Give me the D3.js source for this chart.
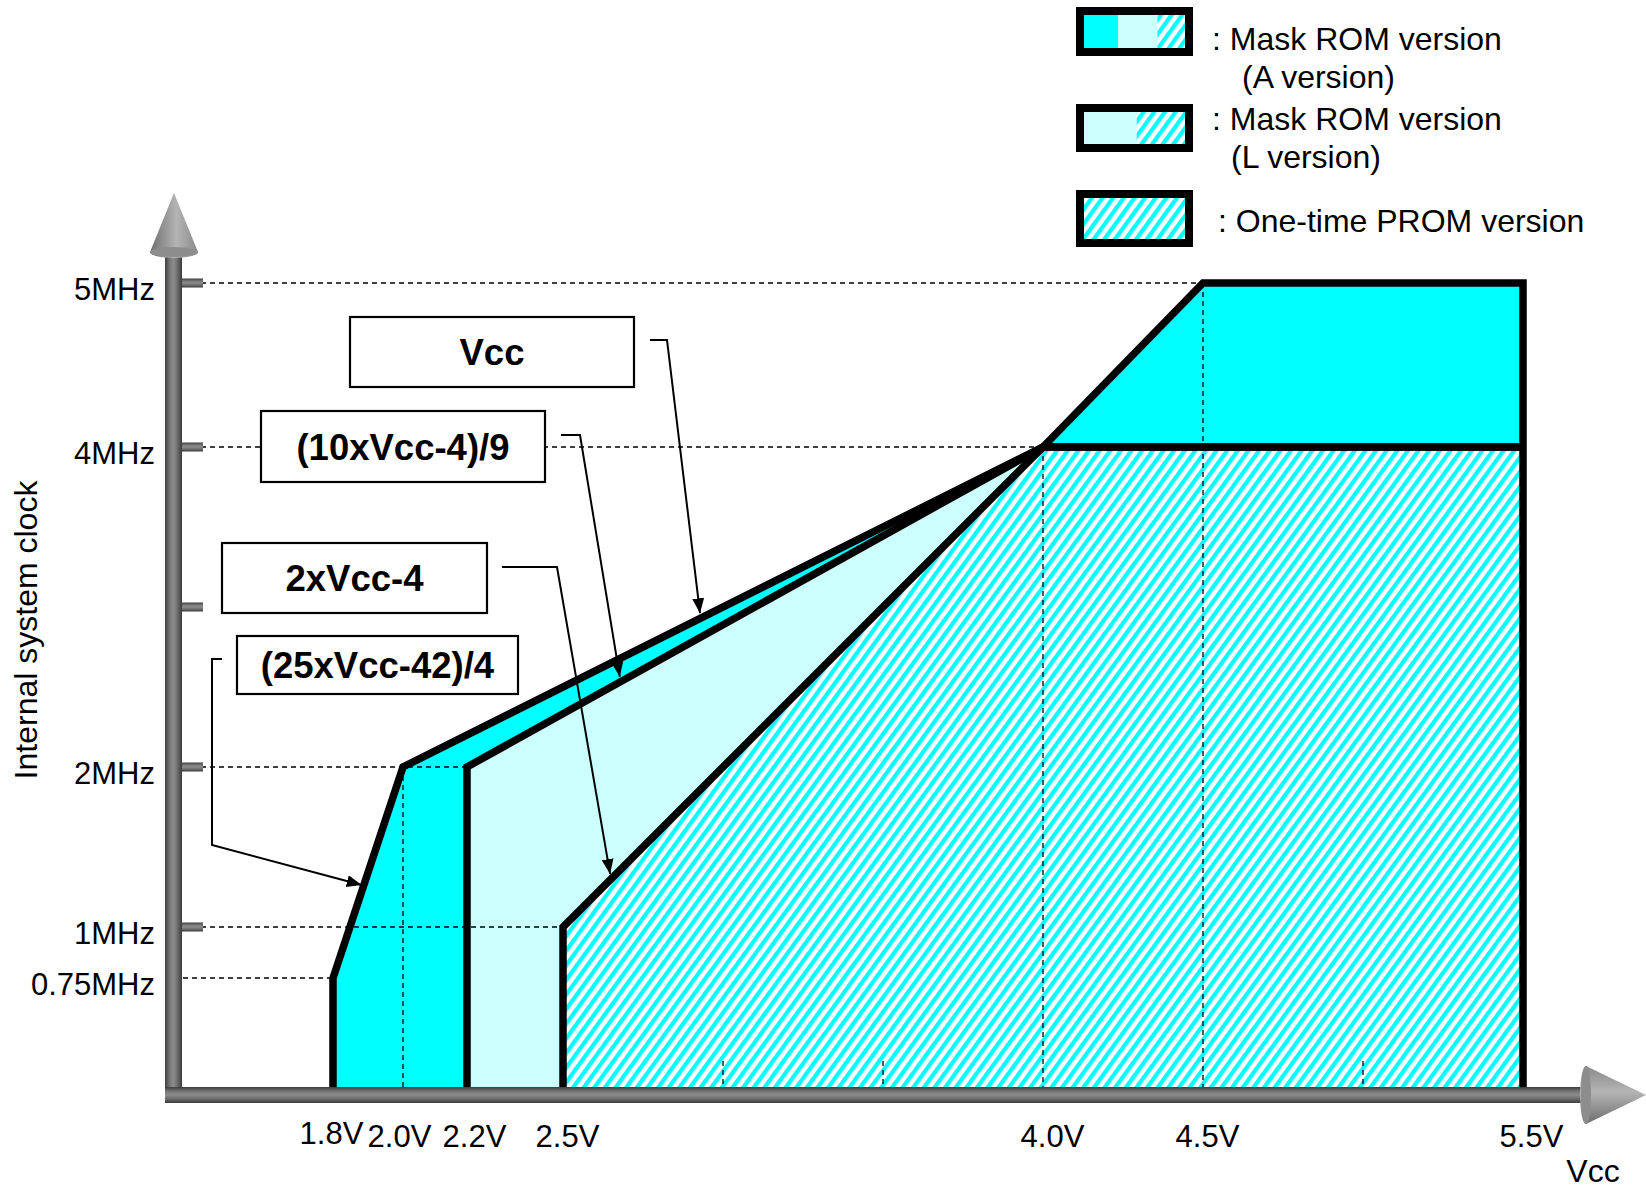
<!DOCTYPE html>
<html><head><meta charset="utf-8">
<script src="https://cdn.jsdelivr.net/npm/d3@7/dist/d3.min.js"></script>
<style>
body{margin:0;background:#fff}
svg{display:block}
text{font-family:"Liberation Sans",Arial,Helvetica,sans-serif;fill:#000}
</style>
</head><body>
<svg id="c" width="1646" height="1191"></svg>
<script>
// ---------------- data ----------------
const xTickValues = [1.8, 2.0, 2.2, 2.5, 4.0, 4.5, 5.5];
const xTickLabels = ["1.8V", "2.0V", "2.2V", "2.5V", "4.0V", "4.5V", "5.5V"];
const xMinorTicks = [3.0, 3.5, 5.0];
const yStubValues = [1, 2, 3, 4, 5];
const yLabelValues = [0.75, 1, 2, 4, 5];
const yTickLabels = ["0.75MHz", "1MHz", "2MHz", "4MHz", "5MHz"];
const xTitle = "Vcc";
const yTitle = "Internal system clock";

// operating-area boundaries [Vcc (V), clock (MHz)]
const aVersionBoundary = [[1.8, 0], [1.8, 0.75], [2.0, 2], [4.0, 4], [4.5, 5], [5.5, 5], [5.5, 0]];
const lVersionBoundary = [[2.2, 0], [2.2, 2], [4.0, 4], [5.5, 4]];
const otpBoundary = [[2.5, 0], [2.5, 1], [4.0, 4], [5.5, 4]];

// dashed reference lines
const hRefFreq = [5, 4, 2, 1, 0.75];
const hRefVcc = [4.5, 4.0, 2.2, 2.5, 1.8];
const vRefVcc = [2.0, 4.0, 4.5];
const vRefFreq = [2, 4, 5];

// formula callouts and the Vcc where each arrow points
const formulaLabels = ["Vcc", "(10xVcc-4)/9", "2xVcc-4", "(25xVcc-42)/4"];
const formulaTargetVcc = [2.93, 2.68, 2.65, 1.882];
const formulaFns = [v => v, v => (10 * v - 4) / 9, v => 2 * v - 4, v => (25 * v - 42) / 4];

const legendLabels = [
  [": Mask ROM version", "(A version)"],
  [": Mask ROM version", "(L version)"],
  [": One-time PROM version"]
];

// ---------------- drawing ----------------
const CYAN = "#00ffff", LIGHT = "#ccffff";
const svg = d3.select("#c");
const x = d3.scaleLinear().domain([1.8, 2.0, 5.5]).range([333, 403, 1523]);
const y = d3.scaleLinear().domain([0, 0.75, 1, 4, 5]).range([1087, 978, 927, 447, 283]);
const line = d3.line().x(d => x(d[0])).y(d => y(d[1]));

const defs = svg.append("defs");
const pat = defs.append("pattern").attr("id", "hatch").attr("patternUnits", "userSpaceOnUse")
  .attr("width", 8.6).attr("height", 20).attr("patternTransform", "rotate(36)");
pat.append("rect").attr("width", 8.6).attr("height", 20).attr("fill", "#fff");
pat.append("rect").attr("width", 4.2).attr("height", 20).attr("fill", CYAN);

function grad(id, vertical, stops) {
  const g = defs.append("linearGradient").attr("id", id)
    .attr("x1", 0).attr("y1", 0).attr("x2", vertical ? 0 : 1).attr("y2", vertical ? 1 : 0);
  stops.forEach(s => g.append("stop").attr("offset", s[0]).attr("stop-color", s[1]));
}
const barStops = [[0, "#3e3e3e"], [0.3, "#7a7a7a"], [0.5, "#8c8c8c"], [0.75, "#6a6a6a"], [1, "#3a3a3a"]];
grad("gv", false, barStops);
grad("gh", true, barStops);
grad("cone", false, [[0, "#6e6e6e"], [0.55, "#b4b4b4"], [1, "#8a8a8a"]]);
grad("coneh", true, [[0, "#8a8a8a"], [0.45, "#b4b4b4"], [1, "#6e6e6e"]]);

defs.append("marker").attr("id", "arr").attr("markerUnits", "userSpaceOnUse")
  .attr("markerWidth", 16).attr("markerHeight", 14).attr("refX", 15).attr("refY", 6)
  .attr("orient", "auto")
  .append("path").attr("d", "M0,0L15,6L0,12Z").attr("fill", "#000");

// fills
svg.append("path").attr("d", line(aVersionBoundary) + "Z").attr("fill", CYAN);
svg.append("path").attr("d", line(lVersionBoundary.concat([[5.5, 0]])) + "Z").attr("fill", LIGHT);
svg.append("path").attr("d", line(otpBoundary.concat([[5.5, 0]])) + "Z").attr("fill", "url(#hatch)");

// dashed reference lines
const dash = {stroke: "#000", "stroke-width": 1.3, "stroke-dasharray": "5,4", fill: "none"};
function applyAttrs(sel, o) { Object.entries(o).forEach(([k, v]) => sel.attr(k, v)); return sel; }
hRefFreq.forEach((f, i) => {
  applyAttrs(svg.append("line").attr("x1", 183).attr("x2", x(hRefVcc[i]))
    .attr("y1", y(f)).attr("y2", y(f)), dash);
});
vRefVcc.forEach((v, i) => {
  applyAttrs(svg.append("line").attr("x1", x(v)).attr("x2", x(v))
    .attr("y1", y(vRefFreq[i])).attr("y2", i === 0 ? 1100 : y(0)), dash);
});
xMinorTicks.forEach(v => {
  applyAttrs(svg.append("line").attr("x1", x(v)).attr("x2", x(v))
    .attr("y1", y(0) - 26).attr("y2", y(0)), dash);
});

// thick boundaries
[aVersionBoundary, lVersionBoundary, otpBoundary].forEach(b => {
  svg.append("path").attr("d", line(b)).attr("fill", "none").attr("stroke", "#000")
    .attr("stroke-width", 7.5).attr("stroke-linejoin", "miter").attr("stroke-miterlimit", 10);
});

// axes (3D bars)
svg.append("rect").attr("x", 165).attr("y", 252).attr("width", 17).attr("height", 851).attr("fill", "url(#gv)");
svg.append("rect").attr("x", 165).attr("y", 1087).attr("width", 1425).attr("height", 16).attr("fill", "url(#gh)");
yStubValues.forEach(v => {
  svg.append("rect").attr("x", 182).attr("y", y(v) - 4.5).attr("width", 21).attr("height", 9).attr("fill", "url(#gh)");
});
// y arrow cone
svg.append("path").attr("d", "M150,252 L174,193 L198,252 A24,6 0 0 1 150,252 Z").attr("fill", "url(#cone)");
svg.append("ellipse").attr("cx", 174).attr("cy", 252).attr("rx", 24).attr("ry", 5).attr("fill", "#8d8d8d");
// x arrow cone
svg.append("path").attr("d", "M1586,1066 L1646,1095 L1586,1124 A6,29 0 0 1 1586,1066 Z").attr("fill", "url(#coneh)");
svg.append("ellipse").attr("cx", 1586).attr("cy", 1095).attr("rx", 5).attr("ry", 29).attr("fill", "#8d8d8d");

// axis labels via d3 axes (small hand-placement nudges as in the original drawing)
const xLabelNudge = [-2, -4, 7, 4, 9, 4, 8];
const xLabelLift = [-3, 0, 0, 0, 0, 0, 0];
const xAxis = d3.axisBottom(x).tickValues(xTickValues).tickFormat((d, i) => xTickLabels[i]).tickSize(0);
const gx = svg.append("g").call(xAxis);
gx.select(".domain").remove();
gx.selectAll("text").attr("y", (d, i) => 1147 + xLabelLift[i]).attr("dy", null).attr("dx", (d, i) => xLabelNudge[i])
  .style("font-size", "31px").style("font-family", "'Liberation Sans',Arial,sans-serif").attr("fill", "#000");

const yAxis = d3.axisLeft(y).tickValues(yLabelValues).tickFormat((d, i) => yTickLabels[i]).tickSize(0).tickPadding(0);
const gy = svg.append("g").attr("transform", "translate(155,0)").call(yAxis);
gy.select(".domain").remove();
gy.selectAll("text").attr("x", 0).attr("dy", null).attr("y", 16)
  .style("font-size", "31px").style("font-family", "'Liberation Sans',Arial,sans-serif").attr("fill", "#000");

svg.append("text").attr("x", 1593).attr("y", 1182).attr("text-anchor", "middle")
  .style("font-size", "32px").text(xTitle);
svg.append("text").attr("transform", "translate(37,630) rotate(-90)").attr("text-anchor", "middle")
  .style("font-size", "32px").text(yTitle);

// formula callouts
const boxes = [
  {x: 350, y: 317, w: 284, h: 70, route: [[650, 340], [667, 340]]},
  {x: 261, y: 411, w: 284, h: 71, route: [[561, 435], [580, 435]]},
  {x: 222, y: 543, w: 265, h: 70, route: [[502, 567], [557, 567]]},
  {x: 237, y: 636, w: 281, h: 58, route: [[222, 659], [212, 659], [212, 845]]}
];
formulaLabels.forEach((lab, i) => {
  const b = boxes[i];
  svg.append("rect").attr("x", b.x).attr("y", b.y).attr("width", b.w).attr("height", b.h)
    .attr("fill", "#fff").attr("stroke", "#000").attr("stroke-width", 2.2);
  svg.append("text").attr("x", b.x + b.w / 2).attr("y", b.y + b.h / 2 + 13)
    .attr("text-anchor", "middle").style("font-size", "36.5px").style("font-weight", "bold").text(lab);
  const v = formulaTargetVcc[i];
  const px = x(v), py = y(formulaFns[i](v));
  const last = b.route[b.route.length - 1];
  const dx = px - last[0], dy = py - last[1], L = Math.hypot(dx, dy);
  const back = i === 3 ? 0 : 5;
  const tip = [px - dx / L * back, py - dy / L * back];
  svg.append("path").attr("d", d3.line()(b.route.concat([tip])))
    .attr("fill", "none").attr("stroke", "#000").attr("stroke-width", 2).attr("marker-end", "url(#arr)");
});

// legend
const lgBoxes = [
  {y: 11, h: 41, segs: [[0, 0.35, CYAN], [0.35, 0.71, LIGHT], [0.71, 1, "url(#hatch)"]]},
  {y: 108, h: 40, segs: [[0, 0.52, LIGHT], [0.52, 1, "url(#hatch)"]]},
  {y: 194, h: 49, segs: [[0, 1, "url(#hatch)"]]}
];
const lgText = [
  [[1212, 50], [1242, 88]],
  [[1212, 130], [1231, 168]],
  [[1218, 232]]
];
legendLabels.forEach((lines, i) => {
  const b = lgBoxes[i], bx = 1080, bw = 109;
  b.segs.forEach(s => {
    svg.append("rect").attr("x", bx + s[0] * bw).attr("y", b.y).attr("width", (s[1] - s[0]) * bw)
      .attr("height", b.h).attr("fill", s[2]);
  });
  svg.append("rect").attr("x", bx).attr("y", b.y).attr("width", bw).attr("height", b.h)
    .attr("fill", "none").attr("stroke", "#000").attr("stroke-width", 8);
  lines.forEach((t, j) => {
    svg.append("text").attr("x", lgText[i][j][0]).attr("y", lgText[i][j][1])
      .style("font-size", "32px").text(t);
  });
});
</script>
</body></html>
